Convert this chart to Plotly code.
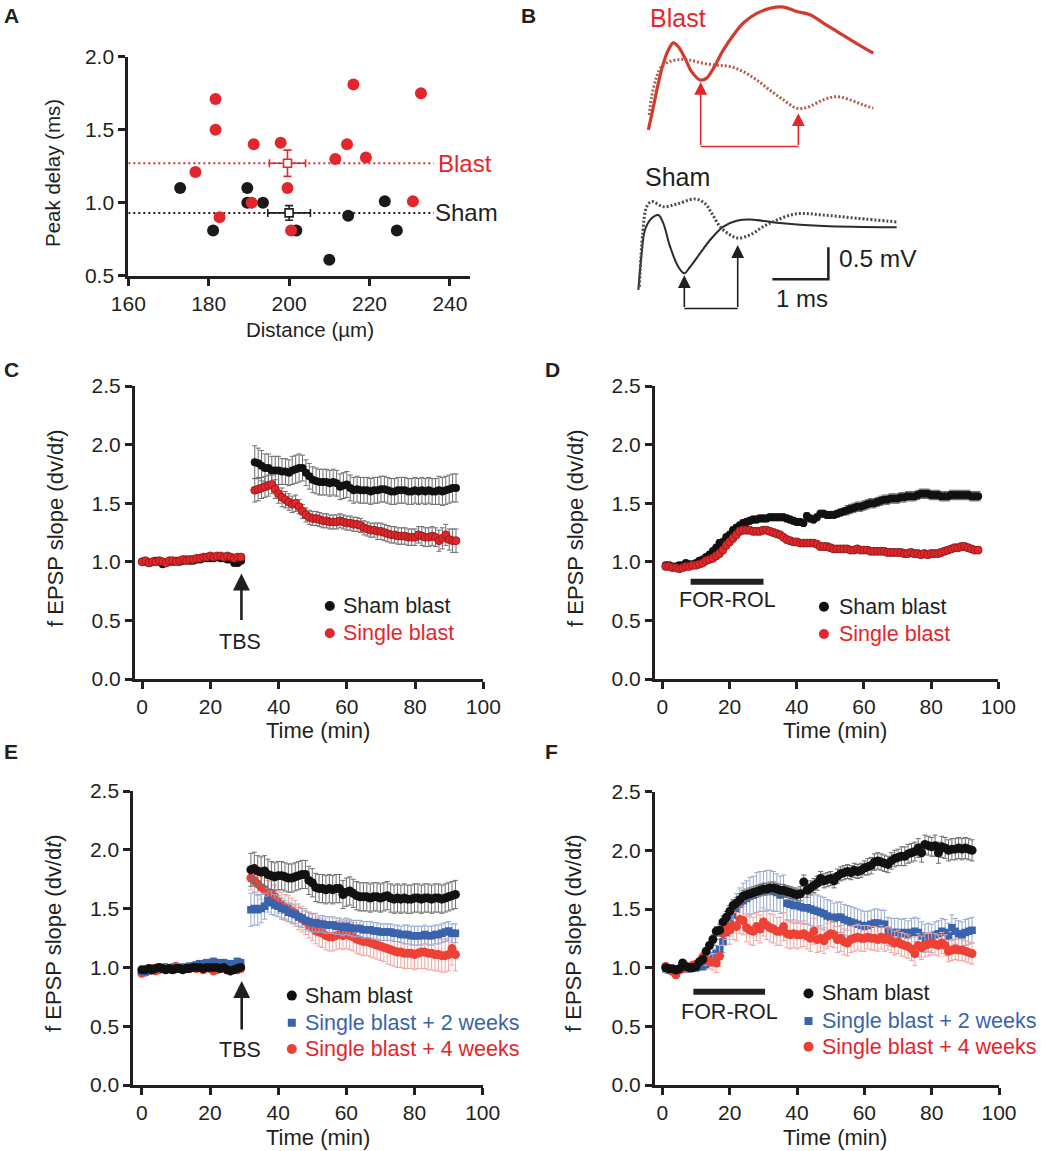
import plotly.graph_objects as go

W, H = 1050, 1151
FONT = "Liberation Sans, Arial, Helvetica, sans-serif"
INK = "#231f20"
RED = "#e3262b"
RED2 = "#ee4136"
BLUE = "#3a63ad"
GREY_ERR = "#6d6d6d"
LRED_ERR = "#f3a39b"
LBLUE_ERR = "#94a8d2"


def px(x):
    return x / W


def py(y):
    return 1 - y / H


# ---------------- Panel A data ----------------
blast_dist = [181.7, 181.7, 191.2, 197.9, 216.0, 232.8, 214.4, 211.5, 219.1, 176.7, 199.6, 190.7, 230.8, 182.7, 200.5]
blast_delay = [1.71, 1.50, 1.40, 1.41, 1.81, 1.75, 1.40, 1.30, 1.31, 1.21, 1.10, 1.00, 1.01, 0.90, 0.81]
sham_dist = [172.9, 189.6, 189.6, 193.5, 181.1, 201.8, 210.0, 214.7, 223.8, 226.8]
sham_delay = [1.10, 1.10, 1.00, 1.00, 0.81, 0.81, 0.61, 0.91, 1.01, 0.81]
blast_mean = (199.6, 1.27)
blast_sem = (4.5, 0.09)
sham_mean = (200.0, 0.93)
sham_sem = (5.3, 0.05)
mean_line_x = [160, 236]
key_x = 253.5

# ---------------- Panel B data (ms, mV) ----------------
blast_solid_t = [0.185, 0.274, 0.363, 0.452, 0.542, 0.631, 0.720, 0.839, 0.958, 1.107, 1.226, 1.345, 1.524, 1.702, 1.881, 2.119, 2.357, 2.595, 2.833, 3.071, 3.310, 3.607, 3.905, 4.202]
blast_solid_v = [2.97, 3.33, 3.70, 4.01, 4.22, 4.33, 4.27, 4.09, 3.88, 3.75, 3.78, 3.93, 4.22, 4.45, 4.64, 4.79, 4.87, 4.89, 4.82, 4.77, 4.64, 4.48, 4.32, 4.17]
blast_dot_t = [0.20, 0.244, 0.333, 0.423, 0.571, 0.750, 0.929, 1.167, 1.405, 1.643, 1.881, 2.119, 2.357, 2.595, 2.833, 3.012, 3.310, 3.548, 3.786, 4.024, 4.202]
blast_dot_v = [3.20, 3.49, 3.80, 3.96, 4.04, 4.07, 4.06, 4.01, 3.98, 3.96, 3.88, 3.75, 3.59, 3.44, 3.31, 3.32, 3.44, 3.49, 3.44, 3.36, 3.31]
sham_solid_t = [0.006, 0.065, 0.125, 0.244, 0.363, 0.452, 0.571, 0.720, 0.827, 0.929, 1.107, 1.286, 1.524, 1.762, 2.0, 2.476, 3.310, 4.619]
sham_solid_v = [0.47, 1.04, 1.41, 1.59, 1.64, 1.51, 1.15, 0.83, 0.73, 0.83, 1.04, 1.25, 1.46, 1.55, 1.57, 1.52, 1.47, 1.45]
sham_dot_t = [0.024, 0.083, 0.155, 0.244, 0.452, 0.690, 1.018, 1.196, 1.315, 1.464, 1.643, 1.792, 2.0, 2.238, 2.476, 2.833, 3.310, 3.905, 4.649]
sham_dot_v = [0.52, 1.35, 1.77, 1.85, 1.77, 1.81, 1.89, 1.82, 1.67, 1.46, 1.33, 1.28, 1.33, 1.46, 1.56, 1.66, 1.64, 1.59, 1.53]
blast_peaks_t = [1.119, 2.863]
blast_peaks_v = [3.72, 3.23]
blast_bracket_v = 2.71
sham_peaks_t = [0.827, 1.780]
sham_peaks_v = [0.70, 1.17]
sham_bracket_v = 0.18
scale_ms = 1.0
scale_mv = 0.5
scale_origin = (3.399, 0.635)

# ---------------- Panel C data ----------------
c_t = list(range(0, 30)) + list(range(33, 93))
c_sham = [1.00, 1.00, 0.99, 1.00, 1.01, 1.00, 0.98, 0.99, 1.00, 1.00,
          1.01, 1.00, 1.01, 1.02, 1.01, 1.01, 1.02, 1.02, 1.03, 1.03,
          1.03, 1.03, 1.04, 1.03, 1.03, 1.02, 1.02, 0.99, 0.99, 1.01,
          1.85, 1.84, 1.82, 1.80, 1.80, 1.78, 1.78, 1.78, 1.77, 1.77,
          1.76, 1.78, 1.79, 1.80, 1.80, 1.76, 1.73, 1.70, 1.69, 1.68,
          1.68, 1.68, 1.67, 1.68, 1.67, 1.64, 1.65, 1.66, 1.63, 1.61,
          1.62, 1.61, 1.61, 1.61, 1.60, 1.61, 1.61, 1.62, 1.62, 1.61,
          1.60, 1.60, 1.61, 1.61, 1.61, 1.60, 1.60, 1.61, 1.60, 1.61,
          1.60, 1.61, 1.60, 1.60, 1.61, 1.60, 1.61, 1.62, 1.63, 1.63]
c_sham_err = [0.02, 0.02, 0.02, 0.02, 0.02, 0.02, 0.02, 0.02, 0.02, 0.02,
              0.02, 0.02, 0.02, 0.02, 0.02, 0.02, 0.02, 0.02, 0.02, 0.02,
              0.02, 0.02, 0.02, 0.02, 0.02, 0.02, 0.02, 0.02, 0.02, 0.02,
              0.14, 0.13, 0.13, 0.12, 0.12, 0.12, 0.12, 0.12, 0.11, 0.11,
              0.11, 0.12, 0.12, 0.12, 0.11, 0.11, 0.11, 0.11, 0.11, 0.11,
              0.11, 0.11, 0.11, 0.11, 0.11, 0.11, 0.11, 0.11, 0.11, 0.11,
              0.11, 0.11, 0.11, 0.11, 0.11, 0.11, 0.11, 0.11, 0.11, 0.11,
              0.11, 0.11, 0.11, 0.11, 0.11, 0.11, 0.11, 0.11, 0.11, 0.11,
              0.11, 0.11, 0.11, 0.11, 0.12, 0.12, 0.12, 0.12, 0.12, 0.12]
c_blast = [1.00, 1.01, 0.99, 1.00, 1.00, 1.01, 1.00, 0.99, 1.01, 1.01,
           1.00, 1.01, 1.02, 1.01, 1.02, 1.02, 1.03, 1.03, 1.04, 1.04,
           1.05, 1.04, 1.05, 1.05, 1.04, 1.05, 1.04, 1.03, 1.04, 1.04,
           1.61, 1.62, 1.63, 1.64, 1.65, 1.66, 1.62, 1.58, 1.55, 1.53,
           1.51, 1.49, 1.50, 1.47, 1.43, 1.40, 1.38, 1.37, 1.37, 1.36,
           1.35, 1.35, 1.34, 1.34, 1.34, 1.35, 1.34, 1.33, 1.33, 1.32,
           1.32, 1.31, 1.29, 1.28, 1.27, 1.27, 1.26, 1.26, 1.25, 1.24,
           1.23, 1.23, 1.22, 1.22, 1.22, 1.21, 1.21, 1.21, 1.23, 1.22,
           1.21, 1.21, 1.22, 1.21, 1.18, 1.20, 1.23, 1.19, 1.18, 1.18]
c_blast_err = [0.02, 0.02, 0.02, 0.02, 0.02, 0.02, 0.02, 0.02, 0.02, 0.02,
               0.02, 0.02, 0.02, 0.02, 0.02, 0.02, 0.02, 0.02, 0.02, 0.02,
               0.02, 0.02, 0.02, 0.02, 0.02, 0.02, 0.02, 0.02, 0.02, 0.02,
               0.10, 0.10, 0.09, 0.09, 0.09, 0.08, 0.08, 0.08, 0.08, 0.07,
               0.07, 0.07, 0.07, 0.06, 0.06, 0.06, 0.06, 0.06, 0.06, 0.06,
               0.06, 0.06, 0.06, 0.06, 0.06, 0.06, 0.06, 0.06, 0.06, 0.06,
               0.06, 0.06, 0.06, 0.06, 0.06, 0.06, 0.07, 0.07, 0.07, 0.07,
               0.07, 0.07, 0.07, 0.07, 0.07, 0.07, 0.07, 0.07, 0.07, 0.08,
               0.08, 0.08, 0.08, 0.08, 0.09, 0.09, 0.09, 0.09, 0.10, 0.10]
tbs_time = 29.1

# ---------------- Panel D data ----------------
d_t = list(range(1, 95))
d_sham = [0.97, 0.97, 0.96, 0.96, 0.97, 0.97, 0.99, 0.98, 0.98, 0.99,
          1.01, 1.02, 1.04, 1.06, 1.09, 1.12, 1.16, 1.17, 1.21, 1.23,
          1.27, 1.29, 1.31, 1.33, 1.34, 1.35, 1.36, 1.36, 1.37, 1.37,
          1.37, 1.38, 1.38, 1.38, 1.38, 1.38, 1.37, 1.36, 1.35, 1.34,
          1.34, 1.33, 1.39, 1.37, 1.36, 1.38, 1.41, 1.41, 1.40, 1.40,
          1.40, 1.41, 1.42, 1.43, 1.44, 1.45, 1.46, 1.47, 1.47, 1.48,
          1.49, 1.50, 1.50, 1.51, 1.52, 1.53, 1.53, 1.54, 1.54, 1.54,
          1.55, 1.55, 1.56, 1.56, 1.56, 1.57, 1.58, 1.58, 1.58, 1.57,
          1.57, 1.57, 1.56, 1.56, 1.56, 1.57, 1.57, 1.57, 1.57, 1.57,
          1.57, 1.56, 1.56, 1.56]
d_sham_err = [0.02, 0.02, 0.02, 0.02, 0.02, 0.02, 0.02, 0.02, 0.02, 0.02,
              0.02, 0.02, 0.02, 0.03, 0.03, 0.03, 0.03, 0.03, 0.03, 0.03,
              0.03, 0.03, 0.03, 0.03, 0.03, 0.03, 0.03, 0.03, 0.03, 0.03,
              0.03, 0.03, 0.03, 0.03, 0.03, 0.03, 0.03, 0.03, 0.03, 0.03,
              0.03, 0.03, 0.03, 0.03, 0.03, 0.03, 0.03, 0.03, 0.03, 0.03,
              0.03, 0.03, 0.03, 0.03, 0.04, 0.04, 0.04, 0.04, 0.04, 0.04,
              0.04, 0.04, 0.04, 0.04, 0.04, 0.04, 0.04, 0.04, 0.04, 0.04,
              0.04, 0.04, 0.04, 0.04, 0.04, 0.04, 0.04, 0.04, 0.04, 0.04,
              0.04, 0.04, 0.04, 0.04, 0.04, 0.04, 0.04, 0.04, 0.04, 0.04,
              0.04, 0.04, 0.04, 0.04]
d_blast = [0.96, 0.96, 0.95, 0.95, 0.94, 0.95, 0.96, 0.96, 0.97, 0.97,
           0.98, 0.99, 1.01, 1.02, 1.03, 1.05, 1.07, 1.10, 1.14, 1.17,
           1.20, 1.23, 1.26, 1.27, 1.27, 1.27, 1.26, 1.26, 1.26, 1.27,
           1.27, 1.26, 1.25, 1.24, 1.23, 1.21, 1.19, 1.18, 1.17, 1.17,
           1.16, 1.16, 1.16, 1.16, 1.16, 1.15, 1.13, 1.13, 1.13, 1.12,
           1.11, 1.11, 1.11, 1.11, 1.11, 1.10, 1.10, 1.11, 1.10, 1.10,
           1.10, 1.09, 1.09, 1.09, 1.09, 1.09, 1.08, 1.08, 1.08, 1.08,
           1.08, 1.07, 1.07, 1.08, 1.07, 1.07, 1.06, 1.07, 1.06, 1.07,
           1.07, 1.07, 1.08, 1.09, 1.10, 1.11, 1.12, 1.12, 1.13, 1.13,
           1.12, 1.11, 1.10, 1.10]
d_blast_err = [0.02, 0.02, 0.02, 0.02, 0.02, 0.02, 0.02, 0.02, 0.02, 0.02,
               0.02, 0.02, 0.02, 0.02, 0.03, 0.03, 0.03, 0.03, 0.03, 0.03,
               0.03, 0.03, 0.03, 0.03, 0.03, 0.03, 0.03, 0.03, 0.03, 0.03,
               0.03, 0.03, 0.03, 0.03, 0.03, 0.03, 0.03, 0.03, 0.03, 0.03,
               0.03, 0.03, 0.03, 0.03, 0.03, 0.03, 0.03, 0.03, 0.03, 0.03,
               0.03, 0.03, 0.03, 0.03, 0.03, 0.03, 0.03, 0.03, 0.03, 0.03,
               0.03, 0.03, 0.03, 0.03, 0.03, 0.03, 0.03, 0.03, 0.03, 0.03,
               0.03, 0.03, 0.03, 0.03, 0.03, 0.03, 0.03, 0.03, 0.03, 0.03,
               0.03, 0.03, 0.03, 0.03, 0.03, 0.03, 0.03, 0.03, 0.03, 0.03,
               0.03, 0.03, 0.03, 0.03]
forrol_d = (8.4, 30.1)

# ---------------- Panel E data ----------------
e_t = list(range(0, 30)) + list(range(32, 93))
e_sham = [0.98, 0.98, 0.99, 0.98, 0.99, 1.00, 0.99, 0.98, 0.99, 0.98,
          0.99, 0.99, 0.98, 0.99, 0.99, 1.00, 1.00, 1.00, 0.99, 1.00,
          1.00, 1.00, 1.00, 0.99, 1.00, 0.98, 0.97, 0.98, 0.99, 1.00,
          1.83, 1.84, 1.82, 1.81, 1.82, 1.79, 1.78, 1.77, 1.78, 1.78,
          1.77, 1.76, 1.76, 1.77, 1.78, 1.79, 1.79, 1.74, 1.72, 1.68,
          1.67, 1.67, 1.66, 1.67, 1.66, 1.67, 1.67, 1.62, 1.64, 1.65,
          1.63, 1.61, 1.60, 1.60, 1.60, 1.59, 1.60, 1.60, 1.59, 1.60,
          1.61, 1.59, 1.58, 1.59, 1.58, 1.59, 1.58, 1.58, 1.59, 1.59,
          1.58, 1.59, 1.59, 1.58, 1.59, 1.59, 1.58, 1.59, 1.60, 1.61,
          1.62]
e_sham_err = [0.02, 0.02, 0.02, 0.02, 0.02, 0.02, 0.02, 0.02, 0.02, 0.02,
              0.02, 0.02, 0.02, 0.02, 0.02, 0.02, 0.02, 0.02, 0.02, 0.02,
              0.02, 0.02, 0.02, 0.02, 0.02, 0.02, 0.02, 0.02, 0.02, 0.02,
              0.14, 0.14, 0.13, 0.13, 0.13, 0.13, 0.12, 0.12, 0.12, 0.12,
              0.12, 0.12, 0.12, 0.12, 0.12, 0.12, 0.12, 0.12, 0.12, 0.12,
              0.12, 0.12, 0.12, 0.12, 0.12, 0.12, 0.12, 0.12, 0.12, 0.12,
              0.12, 0.12, 0.12, 0.12, 0.12, 0.12, 0.12, 0.12, 0.12, 0.12,
              0.12, 0.12, 0.12, 0.12, 0.12, 0.12, 0.12, 0.12, 0.12, 0.12,
              0.12, 0.12, 0.12, 0.12, 0.12, 0.12, 0.12, 0.12, 0.12, 0.12,
              0.12]
e_blast2 = [0.97, 0.96, 0.97, 0.98, 0.99, 1.00, 1.00, 0.99, 0.99, 0.98,
            1.00, 0.99, 1.00, 1.00, 1.01, 1.00, 1.02, 1.03, 1.02, 1.04,
            1.03, 1.05, 1.04, 1.02, 1.04, 1.03, 1.03, 1.02, 1.05, 1.04,
            1.49, 1.50, 1.49, 1.50, 1.52, 1.57, 1.55, 1.53, 1.52, 1.50,
            1.49, 1.47, 1.46, 1.45, 1.43, 1.42, 1.40, 1.39, 1.38, 1.38,
            1.37, 1.37, 1.36, 1.36, 1.36, 1.35, 1.35, 1.34, 1.35, 1.34,
            1.33, 1.33, 1.33, 1.32, 1.32, 1.32, 1.31, 1.31, 1.30, 1.30,
            1.30, 1.30, 1.29, 1.29, 1.28, 1.28, 1.28, 1.27, 1.27, 1.27,
            1.27, 1.28, 1.27, 1.27, 1.28, 1.28, 1.29, 1.30, 1.31, 1.29,
            1.29]
e_blast2_err = [0.03, 0.03, 0.03, 0.03, 0.03, 0.03, 0.03, 0.03, 0.03, 0.03,
                0.03, 0.03, 0.03, 0.03, 0.03, 0.03, 0.03, 0.03, 0.03, 0.03,
                0.03, 0.03, 0.03, 0.03, 0.03, 0.03, 0.03, 0.03, 0.03, 0.03,
                0.14, 0.14, 0.13, 0.12, 0.11, 0.10, 0.10, 0.09, 0.09, 0.09,
                0.08, 0.08, 0.08, 0.08, 0.08, 0.08, 0.08, 0.08, 0.08, 0.08,
                0.07, 0.07, 0.07, 0.07, 0.07, 0.07, 0.07, 0.07, 0.07, 0.07,
                0.07, 0.07, 0.07, 0.07, 0.07, 0.07, 0.07, 0.07, 0.07, 0.07,
                0.07, 0.07, 0.07, 0.07, 0.07, 0.08, 0.08, 0.08, 0.08, 0.08,
                0.08, 0.08, 0.08, 0.08, 0.08, 0.08, 0.08, 0.08, 0.08, 0.08,
                0.08]
e_blast4 = [0.95, 0.96, 0.98, 0.99, 0.97, 0.98, 0.99, 1.00, 0.99, 1.00,
            1.01, 0.99, 1.00, 0.99, 1.00, 1.01, 0.99, 1.00, 0.98, 1.00,
            0.99, 0.97, 0.98, 0.99, 1.00, 0.98, 0.97, 0.99, 0.98, 0.99,
            1.76, 1.74, 1.71, 1.68, 1.66, 1.64, 1.63, 1.60, 1.56, 1.53,
            1.51, 1.50, 1.48, 1.46, 1.43, 1.41, 1.39, 1.36, 1.34, 1.31,
            1.30, 1.29, 1.27, 1.26, 1.26, 1.27, 1.28, 1.27, 1.28, 1.27,
            1.26, 1.24, 1.23, 1.22, 1.22, 1.21, 1.20, 1.19, 1.18, 1.17,
            1.16, 1.15, 1.14, 1.13, 1.13, 1.12, 1.12, 1.12, 1.11, 1.12,
            1.13, 1.13, 1.12, 1.12, 1.11, 1.11, 1.10, 1.10, 1.11, 1.16,
            1.11]
e_blast4_err = [0.03, 0.03, 0.03, 0.03, 0.03, 0.03, 0.03, 0.03, 0.03, 0.03,
                0.03, 0.03, 0.03, 0.03, 0.03, 0.03, 0.03, 0.03, 0.03, 0.03,
                0.03, 0.03, 0.03, 0.03, 0.03, 0.03, 0.03, 0.03, 0.03, 0.03,
                0.10, 0.10, 0.10, 0.10, 0.10, 0.10, 0.10, 0.10, 0.10, 0.11,
                0.11, 0.11, 0.11, 0.11, 0.11, 0.11, 0.11, 0.11, 0.11, 0.11,
                0.12, 0.12, 0.12, 0.12, 0.12, 0.12, 0.12, 0.12, 0.12, 0.12,
                0.12, 0.12, 0.12, 0.12, 0.12, 0.12, 0.12, 0.12, 0.12, 0.12,
                0.13, 0.13, 0.13, 0.13, 0.13, 0.13, 0.13, 0.13, 0.13, 0.13,
                0.14, 0.14, 0.14, 0.14, 0.14, 0.14, 0.14, 0.14, 0.14, 0.14,
                0.14]

# ---------------- Panel F data ----------------
f_t = list(range(1, 93))
f_sham = [1.00, 0.99, 0.99, 0.98, 0.99, 1.04, 1.01, 1.00, 1.00, 1.01,
          1.05, 1.07, 1.14, 1.19, 1.24, 1.31, 1.32, 1.39, 1.43, 1.48,
          1.53, 1.55, 1.58, 1.61, 1.62, 1.63, 1.64, 1.65, 1.66, 1.67,
          1.67, 1.68, 1.68, 1.67, 1.66, 1.66, 1.65, 1.64, 1.63, 1.62,
          1.63, 1.73, 1.66, 1.68, 1.70, 1.72, 1.76, 1.74, 1.75, 1.76,
          1.74, 1.78, 1.80, 1.81, 1.82, 1.81, 1.83, 1.82, 1.83, 1.85,
          1.86, 1.87, 1.90, 1.91, 1.90, 1.89, 1.88, 1.91, 1.93, 1.94,
          1.95, 1.95, 1.97, 1.98, 1.99, 2.02, 1.98, 2.05, 2.04, 2.03,
          2.04, 1.98, 2.03, 2.02, 2.00, 2.01, 2.01, 2.02, 2.01, 2.02,
          2.01, 2.00]
f_sham_err = [0.02, 0.02, 0.02, 0.02, 0.02, 0.02, 0.02, 0.02, 0.02, 0.02,
              0.02, 0.02, 0.03, 0.03, 0.04, 0.04, 0.05, 0.05, 0.05, 0.05,
              0.05, 0.05, 0.05, 0.05, 0.05, 0.05, 0.05, 0.05, 0.05, 0.05,
              0.05, 0.05, 0.05, 0.05, 0.05, 0.05, 0.05, 0.05, 0.05, 0.05,
              0.06, 0.06, 0.06, 0.06, 0.06, 0.06, 0.06, 0.06, 0.06, 0.06,
              0.06, 0.06, 0.06, 0.06, 0.06, 0.06, 0.06, 0.06, 0.06, 0.06,
              0.07, 0.07, 0.07, 0.07, 0.07, 0.07, 0.07, 0.07, 0.07, 0.07,
              0.08, 0.08, 0.08, 0.08, 0.08, 0.08, 0.08, 0.08, 0.08, 0.08,
              0.09, 0.09, 0.09, 0.09, 0.09, 0.09, 0.09, 0.09, 0.09, 0.09,
              0.09, 0.09]
f_blast2 = [0.99, 0.98, 0.97, 0.98, 0.99, 0.99, 1.00, 0.99, 1.00, 1.00,
            1.01, 1.01, 1.03, 1.06, 1.10, 1.12, 1.16, 1.22, 1.30, 1.38,
            1.45, 1.50, 1.54, 1.57, 1.59, 1.61, 1.62, 1.64, 1.65, 1.65,
            1.66, 1.66, 1.65, 1.64, 1.62, 1.63, 1.55, 1.54, 1.53, 1.53,
            1.52, 1.51, 1.51, 1.50, 1.49, 1.48, 1.47, 1.46, 1.44, 1.43,
            1.42, 1.43, 1.43, 1.41, 1.40, 1.39, 1.38, 1.37, 1.36, 1.35,
            1.36, 1.37, 1.38, 1.38, 1.37, 1.37, 1.31, 1.30, 1.30, 1.30,
            1.29, 1.30, 1.28, 1.30, 1.31, 1.30, 1.27, 1.25, 1.26, 1.25,
            1.28, 1.29, 1.31, 1.30, 1.27, 1.34, 1.31, 1.29, 1.28, 1.30,
            1.31, 1.32]
f_blast2_err = [0.03, 0.03, 0.03, 0.03, 0.03, 0.03, 0.03, 0.03, 0.03, 0.03,
                0.03, 0.03, 0.04, 0.05, 0.06, 0.07, 0.08, 0.09, 0.10, 0.11,
                0.12, 0.13, 0.14, 0.15, 0.15, 0.16, 0.16, 0.17, 0.17, 0.17,
                0.17, 0.17, 0.17, 0.16, 0.16, 0.16, 0.15, 0.15, 0.15, 0.15,
                0.14, 0.14, 0.14, 0.14, 0.14, 0.14, 0.14, 0.14, 0.14, 0.14,
                0.13, 0.13, 0.13, 0.13, 0.13, 0.13, 0.13, 0.13, 0.13, 0.13,
                0.12, 0.12, 0.12, 0.12, 0.12, 0.12, 0.12, 0.12, 0.12, 0.12,
                0.12, 0.12, 0.12, 0.12, 0.12, 0.12, 0.12, 0.12, 0.12, 0.12,
                0.11, 0.11, 0.11, 0.11, 0.11, 0.11, 0.11, 0.11, 0.11, 0.11,
                0.11, 0.11]
f_blast4 = [1.01, 0.99, 0.97, 0.94, 0.98, 0.99, 1.01, 1.00, 1.02, 1.03,
            1.05, 1.09, 1.07, 1.05, 1.05, 1.04, 1.10, 1.29, 1.35, 1.32,
            1.36, 1.35, 1.41, 1.40, 1.34, 1.32, 1.31, 1.35, 1.33, 1.39,
            1.36, 1.34, 1.33, 1.31, 1.31, 1.35, 1.29, 1.28, 1.29, 1.28,
            1.28, 1.29, 1.27, 1.25, 1.31, 1.24, 1.25, 1.23, 1.27, 1.29,
            1.28, 1.24, 1.25, 1.22, 1.21, 1.24, 1.25, 1.26, 1.25, 1.25,
            1.26, 1.25, 1.25, 1.24, 1.26, 1.24, 1.25, 1.23, 1.21, 1.22,
            1.20, 1.19, 1.18, 1.16, 1.12, 1.19, 1.17, 1.19, 1.20, 1.21,
            1.20, 1.19, 1.21, 1.19, 1.14, 1.15, 1.16, 1.15, 1.15, 1.14,
            1.13, 1.12]
f_blast4_err = [0.03, 0.03, 0.03, 0.03, 0.03, 0.03, 0.03, 0.03, 0.03, 0.03,
                0.03, 0.04, 0.05, 0.06, 0.07, 0.08, 0.09, 0.10, 0.11, 0.12,
                0.12, 0.12, 0.12, 0.12, 0.12, 0.12, 0.12, 0.12, 0.12, 0.12,
                0.12, 0.12, 0.12, 0.12, 0.12, 0.12, 0.12, 0.12, 0.12, 0.12,
                0.11, 0.11, 0.11, 0.11, 0.11, 0.11, 0.11, 0.11, 0.11, 0.11,
                0.11, 0.11, 0.11, 0.11, 0.11, 0.11, 0.11, 0.11, 0.11, 0.11,
                0.10, 0.10, 0.10, 0.10, 0.10, 0.10, 0.10, 0.10, 0.10, 0.10,
                0.10, 0.10, 0.10, 0.10, 0.10, 0.10, 0.10, 0.10, 0.10, 0.10,
                0.09, 0.09, 0.09, 0.09, 0.09, 0.09, 0.09, 0.09, 0.09, 0.09,
                0.09, 0.09]
forrol_f = (9.2, 30.5)

fig = go.Figure()

TICK_SIZE = 21
TITLE_SIZE = 22
LEG_SIZE = 21.5


def series(xa, ya, t, v, e, color, ecolor, size=8, symbol="circle", outline=None):
    fig.add_trace(go.Scatter(
        x=t, y=v, mode="markers", xaxis=xa, yaxis=ya, showlegend=False, hoverinfo="skip",
        marker=dict(color=color, size=size, symbol=symbol,
                    line=dict(width=0.8 if outline else 0, color=outline or color)),
        error_y=dict(type="data", array=e, visible=True, color=ecolor, thickness=1, width=2.5),
    ))


# ---------- Panel A ----------
fig.add_trace(go.Scatter(x=mean_line_x, y=[blast_mean[1]] * 2, mode="lines", xaxis="x", yaxis="y",
                         line=dict(color=RED, width=2, dash="2px,3px"), showlegend=False, hoverinfo="skip"))
fig.add_trace(go.Scatter(x=mean_line_x, y=[sham_mean[1]] * 2, mode="lines", xaxis="x", yaxis="y",
                         line=dict(color=INK, width=2, dash="2px,3px"), showlegend=False, hoverinfo="skip"))
fig.add_trace(go.Scatter(x=sham_dist, y=sham_delay, mode="markers", xaxis="x", yaxis="y",
                         marker=dict(color="#1a1a1a", size=12), showlegend=False, hoverinfo="skip"))
fig.add_trace(go.Scatter(x=blast_dist, y=blast_delay, mode="markers", xaxis="x", yaxis="y",
                         marker=dict(color=RED, size=12), showlegend=False, hoverinfo="skip"))
for (mx, my), (ex, ey), col in [(blast_mean, blast_sem, RED), (sham_mean, sham_sem, INK)]:
    fig.add_trace(go.Scatter(
        x=[mx], y=[my], mode="markers", xaxis="x", yaxis="y", showlegend=False, hoverinfo="skip",
        marker=dict(symbol="square", size=8, color="white", line=dict(color=col, width=1.6)),
        error_x=dict(type="constant", value=ex, color=col, thickness=1.6, width=4),
        error_y=dict(type="constant", value=ey, color=col, thickness=1.6, width=4)))
fig.add_trace(go.Scatter(x=[key_x, key_x], y=[blast_mean[1], 0.91], mode="markers", xaxis="x", yaxis="y",
                         marker=dict(color=[RED, "#1a1a1a"], size=12), cliponaxis=False,
                         showlegend=False, hoverinfo="skip"))

# ---------- Panel B ----------
fig.add_trace(go.Scatter(x=blast_solid_t, y=blast_solid_v, mode="lines", xaxis="x2", yaxis="y2",
                         line=dict(color="#d13b2e", width=3.2, shape="spline"), showlegend=False, hoverinfo="skip"))
fig.add_trace(go.Scatter(x=blast_dot_t, y=blast_dot_v, mode="lines", xaxis="x2", yaxis="y2",
                         line=dict(color="#b65a4c", width=3, dash="2px,2px", shape="spline"), showlegend=False, hoverinfo="skip"))
fig.add_trace(go.Scatter(x=sham_solid_t, y=sham_solid_v, mode="lines", xaxis="x2", yaxis="y2",
                         line=dict(color="#2b2b2b", width=2, shape="spline"), showlegend=False, hoverinfo="skip"))
fig.add_trace(go.Scatter(x=sham_dot_t, y=sham_dot_v, mode="lines", xaxis="x2", yaxis="y2",
                         line=dict(color="#4a4a4a", width=3, dash="2px,2px", shape="spline"), showlegend=False, hoverinfo="skip"))
fig.add_trace(go.Scatter(x=blast_peaks_t, y=[blast_bracket_v] * 2, mode="lines", xaxis="x2", yaxis="y2",
                         line=dict(color=RED, width=1.6), showlegend=False, hoverinfo="skip"))
fig.add_trace(go.Scatter(x=sham_peaks_t, y=[sham_bracket_v] * 2, mode="lines", xaxis="x2", yaxis="y2",
                         line=dict(color=INK, width=1.6), showlegend=False, hoverinfo="skip"))
sx, sy = scale_origin
fig.add_trace(go.Scatter(x=[sx - scale_ms, sx, sx], y=[sy, sy, sy + scale_mv], mode="lines", xaxis="x2", yaxis="y2",
                         line=dict(color=INK, width=2.5), showlegend=False, hoverinfo="skip"))

annotations = []
for t, v in zip(blast_peaks_t, blast_peaks_v):
    annotations.append(dict(x=t, y=v, ax=t, ay=blast_bracket_v, xref="x2", yref="y2", axref="x2", ayref="y2",
                            showarrow=True, arrowhead=2, arrowsize=1.6, arrowwidth=1.6, arrowcolor=RED,
                            standoff=0, text=""))
for t, v in zip(sham_peaks_t, sham_peaks_v):
    annotations.append(dict(x=t, y=v, ax=t, ay=sham_bracket_v, xref="x2", yref="y2", axref="x2", ayref="y2",
                            showarrow=True, arrowhead=2, arrowsize=1.6, arrowwidth=1.6, arrowcolor=INK,
                            standoff=0, text=""))


def txt(x, y, s, xref, yref, size=LEG_SIZE, color=INK, xanchor="left", yanchor="middle", bold=False, angle=0):
    annotations.append(dict(x=x, y=y, xref=xref, yref=yref, text=s, showarrow=False, xanchor=xanchor,
                            yanchor=yanchor, textangle=angle,
                            font=dict(family=FONT, size=size, color=color,
                                      weight="bold" if bold else "normal")))


txt(0.185, 4.72, "Blast", "x2", "y2", size=25, color=RED)
txt(0.095, 2.24, "Sham", "x2", "y2", size=25, color=INK)
txt(3.548, 0.96, "0.5 mV", "x2", "y2", size=24.5)
txt(2.92, 0.34, "1 ms", "x2", "y2", size=24, xanchor="center")

# ---------- Panel A texts ----------
txt(236.5, blast_mean[1], "Blast", "x", "y", size=24, color=RED)
txt(235.9, sham_mean[1] + 0.005, "Sham", "x", "y", size=24, color=INK)

# ---------- Panel C ----------
series("x3", "y3", c_t, c_sham, c_sham_err, "#111111", GREY_ERR, size=8)
series("x3", "y3", c_t, c_blast, c_blast_err, RED, GREY_ERR, size=8, outline="#8a1a16")
annotations.append(dict(x=tbs_time, y=0.90, ax=tbs_time, ay=0.49, xref="x3", yref="y3", axref="x3", ayref="y3",
                        showarrow=True, arrowhead=2, arrowsize=1.3, arrowwidth=2.6, arrowcolor=INK,
                        standoff=0, text=""))
txt(tbs_time - 0.3, 0.32, "TBS", "x3", "y3", size=21.5, xanchor="center")
fig.add_trace(go.Scatter(x=[55.0, 55.0], y=[0.623, 0.39], mode="markers", xaxis="x3", yaxis="y3",
                         marker=dict(color=["#111111", RED], size=10), showlegend=False, hoverinfo="skip"))
txt(58.2, 0.623, "Sham blast", "x3", "y3")
txt(58.2, 0.39, "Single blast", "x3", "y3", color=RED)

# ---------- Panel D ----------
series("x4", "y4", d_t, d_sham, d_sham_err, "#111111", GREY_ERR, size=8)
series("x4", "y4", d_t, d_blast, d_blast_err, RED, GREY_ERR, size=8, outline="#8a1a16")
fig.add_trace(go.Scatter(x=list(forrol_d), y=[0.83, 0.83], mode="lines", xaxis="x4", yaxis="y4",
                         line=dict(color=INK, width=6), showlegend=False, hoverinfo="skip"))
txt(sum(forrol_d) / 2, 0.67, "FOR-ROL", "x4", "y4", size=21.5, xanchor="center")
fig.add_trace(go.Scatter(x=[48.1, 48.1], y=[0.617, 0.384], mode="markers", xaxis="x4", yaxis="y4",
                         marker=dict(color=["#111111", RED], size=10), showlegend=False, hoverinfo="skip"))
txt(51.9, 0.617, "Sham blast", "x4", "y4")
txt(51.9, 0.384, "Single blast", "x4", "y4", color=RED)

# ---------- Panel E ----------
series("x5", "y5", e_t, e_blast4, e_blast4_err, RED2, LRED_ERR, size=9)
series("x5", "y5", e_t, e_blast2, e_blast2_err, BLUE, LBLUE_ERR, size=7.5, symbol="square")
series("x5", "y5", e_t, e_sham, e_sham_err, "#111111", GREY_ERR, size=9)
annotations.append(dict(x=29.3, y=0.884, ax=29.3, ay=0.46, xref="x5", yref="y5", axref="x5", ayref="y5",
                        showarrow=True, arrowhead=2, arrowsize=1.3, arrowwidth=2.6, arrowcolor=INK,
                        standoff=0, text=""))
txt(28.9, 0.30, "TBS", "x5", "y5", size=21.5, xanchor="center")
fig.add_trace(go.Scatter(x=[44.0], y=[0.76], mode="markers", xaxis="x5", yaxis="y5",
                         marker=dict(color="#111111", size=10), showlegend=False, hoverinfo="skip"))
fig.add_trace(go.Scatter(x=[44.0], y=[0.53], mode="markers", xaxis="x5", yaxis="y5",
                         marker=dict(color=BLUE, size=8, symbol="square"), showlegend=False, hoverinfo="skip"))
fig.add_trace(go.Scatter(x=[44.0], y=[0.306], mode="markers", xaxis="x5", yaxis="y5",
                         marker=dict(color=RED2, size=10), showlegend=False, hoverinfo="skip"))
txt(47.2, 0.76, "Sham blast", "x5", "y5")
txt(47.2, 0.53, "Single blast + 2 weeks", "x5", "y5", color=BLUE)
txt(47.2, 0.306, "Single blast + 4 weeks", "x5", "y5", color=RED)

# ---------- Panel F ----------
series("x6", "y6", f_t, f_blast2, f_blast2_err, BLUE, LBLUE_ERR, size=7.5, symbol="square")
series("x6", "y6", f_t, f_blast4, f_blast4_err, RED2, LRED_ERR, size=9)
series("x6", "y6", f_t, f_sham, f_sham_err, "#111111", GREY_ERR, size=9)
fig.add_trace(go.Scatter(x=list(forrol_f), y=[0.795, 0.795], mode="lines", xaxis="x6", yaxis="y6",
                         line=dict(color=INK, width=6), showlegend=False, hoverinfo="skip"))
txt(sum(forrol_f) / 2, 0.62, "FOR-ROL", "x6", "y6", size=21.5, xanchor="center")
fig.add_trace(go.Scatter(x=[43.4], y=[0.78], mode="markers", xaxis="x6", yaxis="y6",
                         marker=dict(color="#111111", size=10), showlegend=False, hoverinfo="skip"))
fig.add_trace(go.Scatter(x=[43.4], y=[0.545], mode="markers", xaxis="x6", yaxis="y6",
                         marker=dict(color=BLUE, size=8, symbol="square"), showlegend=False, hoverinfo="skip"))
fig.add_trace(go.Scatter(x=[43.4], y=[0.327], mode="markers", xaxis="x6", yaxis="y6",
                         marker=dict(color=RED2, size=10), showlegend=False, hoverinfo="skip"))
txt(46.8, 0.78, "Sham blast", "x6", "y6")
txt(46.8, 0.545, "Single blast + 2 weeks", "x6", "y6", color=BLUE)
txt(46.8, 0.327, "Single blast + 4 weeks", "x6", "y6", color=RED)


# ---------- axis titles & panel labels (paper coords) ----------
def ptxt(xp, yp, s, size=TITLE_SIZE, angle=0, bold=False, xanchor="center"):
    txt(px(xp), py(yp), s, "paper", "paper", size=size, angle=angle, bold=bold, xanchor=xanchor)


ptxt(310, 330, "Distance (µm)", size=20.5)
ptxt(53, 173, "Peak delay (ms)", size=20.5, angle=-90)
yt = "f EPSP slope (dv/d<i>t</i>)"
for xc, yc in [(318, 730), (835, 730), (318, 1137), (835, 1137)]:
    ptxt(xc, yc, "Time (min)")
for xc, yc in [(55, 528), (575, 528), (53, 933), (573, 933)]:
    ptxt(xc, yc, yt, angle=-90)
for lab, xl, yl in [("A", 2, 16), ("B", 519, 16), ("C", 2, 370), ("D", 543, 370), ("E", 2, 751), ("F", 543, 751)]:
    ptxt(xl, yl, lab, size=21, bold=True, xanchor="left")


def axis(domain, rng, tickvals=None, fmt=None, anchor=None, visible=True, tsize=TICK_SIZE):
    d = dict(domain=domain, range=rng, anchor=anchor, showgrid=False, zeroline=False, visible=visible)
    if visible:
        d.update(showline=True, linewidth=3, linecolor=INK, ticks="outside", ticklen=7, tickwidth=2.5,
                 tickcolor=INK, tickvals=tickvals, tickformat=fmt,
                 tickfont=dict(family=FONT, size=tsize, color=INK))
    return d


ticks_t = [0, 20, 40, 60, 80, 100]
ticks_y = [0, 0.5, 1.0, 1.5, 2.0, 2.5]

fig.update_layout(
    width=W, height=H, margin=dict(l=0, r=0, t=0, b=0, pad=0, autoexpand=False),
    paper_bgcolor="white", plot_bgcolor="white", showlegend=False,
    xaxis=axis([px(128.3), px(470)], [160, 245], [160, 180, 200, 220, 240], None, "y"),
    yaxis=axis([py(275.7), py(56.7)], [0.5, 2.0], [0.5, 1.0, 1.5, 2.0], ".1f", "x"),
    xaxis2=axis([px(600), px(1000)], [-0.679, 6.464], anchor="y2", visible=False),
    yaxis2=axis([py(320), 1.0], [0, 5.0], anchor="x2", visible=False),
    xaxis3=axis([px(135), px(483.3)], [-2.1, 100], ticks_t, None, "y3"),
    yaxis3=axis([py(679), py(386)], [0, 2.5], ticks_y, ".1f", "x3"),
    xaxis4=axis([px(655), px(998.3)], [-2.2, 100], ticks_t, None, "y4"),
    yaxis4=axis([py(679), py(386)], [0, 2.5], ticks_y, ".1f", "x4"),
    xaxis5=axis([px(133.3), px(482.7)], [-2.5, 100], ticks_t, None, "y5"),
    yaxis5=axis([py(1085), py(791)], [0, 2.5], ticks_y, ".1f", "x5"),
    xaxis6=axis([px(655), px(999)], [-2.2, 100], ticks_t, None, "y6"),
    yaxis6=axis([py(1085), py(791.7)], [0, 2.5], ticks_y, ".1f", "x6"),
    annotations=annotations,
)

fig.write_html(
    "out.html",
    post_script="document.documentElement.style.margin='0';document.body.style.margin='0';"
                "document.body.style.padding='0';document.body.style.overflow='hidden';",
)
